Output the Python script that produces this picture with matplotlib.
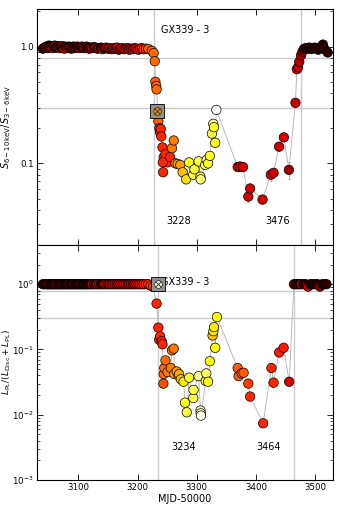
import numpy as np
import matplotlib.pyplot as plt

# hard-state plateau (start of outburst), shared MJD grid
hard_mjd = [3040, 3043, 3046, 3048, 3050, 3052, 3054, 3056, 3058, 3060, 3062, 3064,
            3066, 3068, 3070, 3072, 3074, 3076, 3078, 3080, 3082, 3084, 3086, 3088,
            3090, 3092, 3094, 3096, 3098, 3100, 3102, 3104, 3106, 3108, 3110, 3112,
            3114, 3116, 3118, 3120, 3123, 3126, 3129, 3132, 3135, 3138, 3141, 3144,
            3147, 3150, 3153, 3156, 3159, 3162, 3165, 3168, 3171, 3174, 3177, 3180,
            3183, 3186, 3189, 3192, 3195, 3198, 3201, 3204, 3207, 3210, 3214]
hard_hr = [0.96, 0.98, 1.00, 0.97, 1.02, 0.99, 1.01, 0.97, 1.00, 1.02, 0.98, 1.00,
           1.01, 0.97, 0.99, 1.01, 0.98, 0.96, 1.00, 0.99, 0.97, 1.00, 0.98, 0.96,
           0.99, 1.00, 0.97, 0.98, 1.00, 0.99, 0.97, 0.99, 1.00, 0.98, 0.97, 0.99,
           1.00, 0.98, 0.96, 0.98, 0.97, 0.99, 0.98, 0.96, 0.97, 0.98, 0.95, 0.97,
           0.98, 0.96, 0.97, 0.95, 0.97, 0.96, 0.98, 0.94, 0.96, 0.97, 0.95, 0.96,
           0.97, 0.94, 0.96, 0.95, 0.97, 0.96, 0.94, 0.96, 0.97, 0.95, 0.96]
hard_col = [0.05, 0.10, 0.25, 0.08, 0.05, 0.28, 0.10, 0.30, 0.06, 0.22, 0.08, 0.30,
            0.12, 0.28, 0.06, 0.25, 0.10, 0.30, 0.08, 0.20, 0.30, 0.08, 0.25, 0.10,
            0.30, 0.06, 0.28, 0.12, 0.22, 0.08, 0.30, 0.10, 0.26, 0.06, 0.30, 0.12,
            0.24, 0.08, 0.30, 0.10, 0.28, 0.06, 0.30, 0.15, 0.25, 0.08, 0.30, 0.12,
            0.28, 0.10, 0.32, 0.15, 0.30, 0.20, 0.32, 0.28, 0.20, 0.33, 0.25, 0.33,
            0.22, 0.34, 0.30, 0.36, 0.33, 0.38, 0.36, 0.40, 0.42, 0.45, 0.48]
hard_pl = [1.0, 1.0, 1.0, 1.0, 1.0, 1.0, 1.0, 1.0, 1.0, 1.0, 1.0, 1.0,
           1.0, 1.0, 1.0, 1.0, 1.0, 1.0, 1.0, 1.0, 1.0, 1.0, 1.0, 1.0,
           1.0, 1.0, 1.0, 1.0, 1.0, 1.0, 1.0, 1.0, 1.0, 1.0, 1.0, 1.0,
           1.0, 1.0, 1.0, 1.0, 1.0, 1.0, 1.0, 1.0, 1.0, 1.0, 1.0, 1.0,
           1.0, 1.0, 1.0, 1.0, 1.0, 1.0, 1.0, 1.0, 1.0, 1.0, 1.0, 1.0,
           1.0, 1.0, 1.0, 1.0, 1.0, 1.0, 1.0, 1.0, 1.0, 1.0, 1.0]
hard_pl_col = [0.05, 0.08, 0.10, 0.05, 0.30, 0.06, 0.10, 0.08, 0.05, 0.10, 0.32, 0.06,
               0.08, 0.10, 0.05, 0.30, 0.08, 0.06, 0.10, 0.05, 0.08, 0.32, 0.10, 0.06,
               0.08, 0.30, 0.05, 0.10, 0.08, 0.06, 0.10, 0.30, 0.08, 0.05, 0.10, 0.08,
               0.06, 0.10, 0.08, 0.05, 0.30, 0.10, 0.08, 0.32, 0.30, 0.10, 0.08, 0.32,
               0.30, 0.10, 0.32, 0.30, 0.34, 0.32, 0.30, 0.32, 0.34, 0.30, 0.32, 0.30,
               0.20, 0.32, 0.34, 0.30, 0.36, 0.38, 0.36, 0.40, 0.42, 0.40, 0.42]

# top panel: hardness ratio S(6-10 keV)/S(3-6 keV) after the plateau
hr_mjd = [3218, 3224, 3227, 3229, 3230, 3231.5, 3232, 3235, 3236.6, 3237.8, 3239, 3240,
          3242, 3243, 3244, 3247, 3250.6, 3254.6, 3242.5, 3258, 3261, 3264, 3267.5, 3272,
          3276, 3282, 3287, 3294, 3296, 3303, 3306, 3306.5, 3314, 3316.6, 3319, 3322,
          3325.5, 3327.7, 3329, 3331, 3333,
          3369, 3373, 3378, 3387, 3390, 3411, 3425, 3429.6, 3439, 3447, 3455.5,
          3466.6, 3469, 3471, 3473, 3476, 3478.5, 3481, 3484, 3487, 3490, 3493, 3496,
          3499, 3502, 3505, 3508, 3511, 3513, 3516, 3521]
hr_val = [0.955, 0.92, 0.88, 0.75, 0.50, 0.46, 0.43, 0.23, 0.20, 0.185, 0.197, 0.17,
          0.137, 0.084, 0.113, 0.12, 0.102, 0.113, 0.102, 0.135, 0.157, 0.100, 0.099, 0.097,
          0.084, 0.073, 0.102, 0.080, 0.089, 0.104, 0.077, 0.073, 0.097, 0.107, 0.100, 0.116,
          0.180, 0.218, 0.204, 0.150, 0.287,
          0.093, 0.094, 0.093, 0.052, 0.061, 0.049, 0.080, 0.083, 0.139, 0.167, 0.088,
          0.33, 0.64, 0.665, 0.74, 0.84, 0.906, 0.955, 0.97, 0.96, 0.98, 0.95, 0.97,
          0.98, 0.96, 0.94, 0.97, 0.98, 1.04, 0.95, 0.89]
hr_err = [0, 0, 0, 0, 0, 0, 0, 0, 0, 0, 0, 0,
          0, 0, 0, 0, 0, 0, 0, 0, 0, 0, 0, 0,
          0, 0, 0, 0, 0, 0, 0, 0, 0, 0, 0, 0,
          0, 0, 0, 0, 0,
          0.004, 0, 0, 0.005, 0.004, 0.003, 0.009, 0.008, 0, 0, 0.014,
          0, 0, 0, 0, 0, 0, 0, 0, 0, 0, 0, 0,
          0, 0, 0, 0, 0, 0.06, 0, 0]
hr_col = [0.50, 0.52, 0.52, 0.52, 0.50, 0.52, 0.52, 0.50, 0.45, 0.42, 0.42, 0.42,
          0.42, 0.42, 0.42, 0.42, 0.42, 0.42, 0.42, 0.55, 0.55, 0.58, 0.60, 0.60,
          0.65, 0.70, 0.78, 0.80, 0.80, 0.82, 0.78, 0.86, 0.80, 0.88, 0.78, 0.78,
          0.80, 0.88, 0.78, 0.78, 1.00,
          0.30, 0.30, 0.30, 0.30, 0.30, 0.30, 0.30, 0.30, 0.30, 0.30, 0.22,
          0.28, 0.28, 0.28, 0.26, 0.24, 0.20, 0.08, 0.05, 0.05, 0.08, 0.05, 0.06,
          0.05, 0.08, 0.05, 0.06, 0.05, 0.05, 0.06, 0.05]

# bottom panel: power-law fraction L_PL/(L_Disc+L_PL) after the plateau
pl_mjd = [3218, 3222, 3226, 3232, 3235, 3236.5, 3238, 3240.6, 3242, 3243.5, 3244, 3245,
          3247, 3250.6, 3256, 3258, 3261, 3262, 3266, 3269, 3270, 3273, 3277.6, 3280,
          3283, 3287, 3294, 3294.5, 3303, 3306.2, 3306.6, 3307, 3315, 3316, 3319, 3322,
          3326.6, 3328, 3329, 3331, 3334,
          3369, 3370.5, 3375.6, 3379, 3387, 3390, 3412, 3426, 3429.6, 3439, 3446.6, 3456,
          3464, 3467, 3470, 3473, 3476, 3480, 3484, 3488, 3492, 3496, 3500, 3504,
          3508, 3512, 3516, 3519]
pl_val = [1.0, 0.95, 0.92, 0.505, 0.216, 0.141, 0.159, 0.134, 0.12, 0.030, 0.042, 0.052,
          0.068, 0.045, 0.052, 0.097, 0.103, 0.042, 0.046, 0.040, 0.042, 0.035, 0.032, 0.0153,
          0.0109, 0.037, 0.018, 0.024, 0.039, 0.0116, 0.0105, 0.0097, 0.033, 0.043, 0.032, 0.066,
          0.164, 0.191, 0.22, 0.106, 0.314,
          0.052, 0.039, 0.043, 0.044, 0.030, 0.019, 0.0074, 0.052, 0.031, 0.090, 0.106, 0.032,
          1.0, 1.0, 1.0, 1.0, 1.0, 1.0, 1.0, 0.92, 1.0, 1.0, 1.0, 1.0,
          0.92, 1.0, 1.0, 1.0]
pl_col = [0.42, 0.45, 0.42, 0.42, 0.42, 0.42, 0.42, 0.40, 0.42, 0.48, 0.52, 0.52,
          0.52, 0.55, 0.55, 0.55, 0.55, 0.58, 0.60, 0.62, 0.62, 0.65, 0.72, 0.78,
          0.80, 0.78, 0.82, 0.82, 0.90, 0.92, 0.95, 0.97, 0.78, 0.85, 0.78, 0.75,
          0.65, 0.72, 0.72, 0.75, 0.75,
          0.50, 0.50, 0.50, 0.50, 0.45, 0.42, 0.42, 0.42, 0.42, 0.40, 0.40, 0.30,
          0.20, 0.05, 0.08, 0.05, 0.30, 0.06, 0.05, 0.30, 0.08, 0.05, 0.06, 0.05,
          0.20, 0.05, 0.08, 0.05]

# transition markers and reference lines
hr_box = (3233, 0.28)
pl_box = (3235, 1.0)
hr_vlines = [3228, 3476]
pl_vlines = [3234, 3464]
hlines = [0.8, 0.3]

fig = plt.figure(figsize=(3.41, 5.11), dpi=100)
ax1 = fig.add_axes([0.1085, 0.5205, 0.868, 0.462])
ax2 = fig.add_axes([0.1085, 0.0607, 0.868, 0.46])

grey = '#b0b0b0'


def draw(ax, x, y, c, col_marker, box):
    x = np.asarray(x)
    y = np.asarray(y)
    order = np.argsort(x, kind='stable')
    ax.plot(x[order], y[order], color=grey, lw=0.6, zorder=2)
    ax.scatter(x, y, c=c, cmap='hot', vmin=0, vmax=1, s=46,
               edgecolors='black', linewidths=0.5, zorder=3)
    ax.scatter([box[0]], [box[1]], marker='s', s=90, color='#909090',
               edgecolors='black', linewidths=0.6, zorder=4)
    ax.scatter([box[0]], [box[1]], c=[col_marker], cmap='hot', vmin=0, vmax=1,
               s=30, edgecolors='black', linewidths=0.4, zorder=5)
    ax.scatter([box[0]], [box[1]], marker='x', s=18, color='#222222',
               linewidths=0.6, zorder=6)


# top panel
ax1.errorbar(hr_mjd, hr_val, yerr=hr_err, fmt='none', ecolor=grey, elinewidth=0.8,
             capsize=1, zorder=1)
draw(ax1, hard_mjd + hr_mjd, hard_hr + hr_val, hard_col + hr_col, 0.58, hr_box)
for v in hr_vlines:
    ax1.axvline(v, color='#cccccc', lw=1.0, zorder=0)
for h in hlines:
    ax1.axhline(h, color='#cccccc', lw=1.0, zorder=0)
ax1.set_yscale('log')
ax1.set_ylim(0.02, 2.1)
ax1.set_xlim(3030, 3530)
ax1.set_yticks([0.1, 1.0])
ax1.set_yticklabels(['0.1', '1.0'])
ax1.set_xticklabels([])
ax1.set_ylabel(r'$S_{6-10\,\mathrm{keV}}/S_{3-6\,\mathrm{keV}}$', fontsize=7)
ax1.text(0.5, 0.9, 'GX339 - 3', transform=ax1.transAxes, fontsize=7, ha='center')
ax1.text(3270, 0.032, '3228', fontsize=7, ha='center', va='center')
ax1.text(3436, 0.032, '3476', fontsize=7, ha='center', va='center')

# bottom panel
draw(ax2, hard_mjd + pl_mjd, hard_pl + pl_val, hard_pl_col + pl_col, 0.95, pl_box)
for v in pl_vlines:
    ax2.axvline(v, color='#cccccc', lw=1.0, zorder=0)
for h in hlines:
    ax2.axhline(h, color='#cccccc', lw=1.0, zorder=0)
ax2.set_yscale('log')
ax2.set_ylim(1e-3, 4)
ax2.set_xlim(3030, 3530)
ax2.set_xticks([3100, 3200, 3300, 3400, 3500])
ax2.set_ylabel(r'$L_{\mathrm{PL}}/(L_{\mathrm{Disc}}+L_{\mathrm{PL}})$', fontsize=6.5)
ax2.set_xlabel('MJD-50000', fontsize=7, labelpad=1)
ax2.text(0.5, 0.83, 'GX339 - 3', transform=ax2.transAxes, fontsize=7, ha='center')
ax2.text(3277, 0.0032, '3234', fontsize=7, ha='center', va='center')
ax2.text(3422, 0.0032, '3464', fontsize=7, ha='center', va='center')

for ax in (ax1, ax2):
    ax.tick_params(which='both', direction='in', top=True, right=True, labelsize=6.2)
    ax.tick_params(which='major', length=4, width=0.6, pad=2.5)
    ax.tick_params(which='minor', length=2, width=0.5)
    ax.yaxis.set_label_coords(-0.08, 0.5)
    for s in ax.spines.values():
        s.set_linewidth(0.8)

fig.savefig('out.png', dpi=100)
